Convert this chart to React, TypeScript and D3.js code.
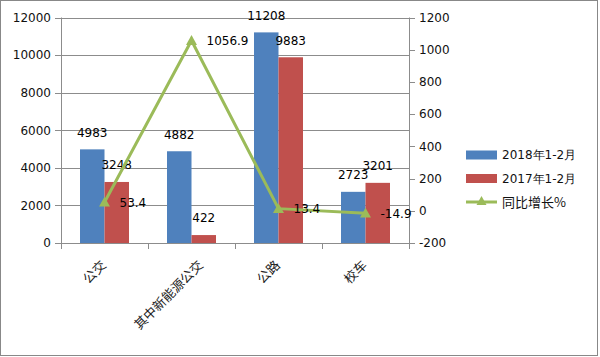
import React from 'react';
import * as d3 from 'd3';

const categories = ['公交', '其中新能源公交', '公路', '校车'];
const sales2018 = [4983, 4882, 11208, 2723];
const sales2017 = [3248, 422, 9883, 3201];
const growth = [53.4, 1056.9, 13.4, -14.9];
const seriesNames = ['2018年1-2月', '2017年1-2月', '同比增长%'];
const leftTicks = [0, 2000, 4000, 6000, 8000, 10000, 12000];
const rightTicks = [-200, 0, 200, 400, 600, 800, 1000, 1200];

const W = 600, H = 357;
const plot = { left: 61, right: 409, top: 17.5, bottom: 243 };
const BLUE = '#4F81BD', RED = '#C0504D', GREEN = '#9BBB59', GRID = '#8C8C8C';
const NUM_FONT = '"DejaVu Sans", Verdana, sans-serif';
const CJK_FONT = '"Noto Sans CJK SC", "DejaVu Sans", sans-serif';

export default function App() {
  const x = d3.scaleBand<string>().domain(categories).range([plot.left, plot.right]).padding(0);
  const bw = x.bandwidth();
  const inner = d3.scaleBand<string>().domain(['a', 'b']).range([0, bw]).paddingInner(0).paddingOuter(0.776);
  const yL = d3.scaleLinear().domain([0, 12000]).range([plot.bottom, plot.top]);
  const yR = d3.scaleLinear().domain([-200, 1200]).range([plot.bottom, plot.top]);
  const cx = (c: string) => (x(c) as number) + bw / 2;
  const line = d3.line<number>().x((_, i) => cx(categories[i])).y(d => yR(d));
  const tri = (px: number, py: number, s = 5.5) => `M${px},${py - s}L${px + s},${py + s * 0.8}L${px - s},${py + s * 0.8}Z`;
  const series = [
    { key: 'a', vals: sales2018, color: BLUE },
    { key: 'b', vals: sales2017, color: RED },
  ];

  return (
    <svg width={W} height={H} style={{ position: 'absolute', left: 0, top: 0, background: '#fff' }}>
      <rect x={0.5} y={0.5} width={597} height={355} fill="#fff" stroke="#888" strokeWidth={1} />
      {/* gridlines */}
      {leftTicks.map(t => (
        <line key={'g' + t} x1={plot.left - 6} x2={plot.right} y1={Math.round(yL(t)) + 0.5} y2={Math.round(yL(t)) + 0.5} stroke={GRID} strokeWidth={1} />
      ))}
      {/* left axis */}
      <line x1={plot.left + 0.5} x2={plot.left + 0.5} y1={plot.top} y2={plot.bottom + 6} stroke={GRID} />
      {leftTicks.map(t => (
        <text key={'lt' + t} x={51} y={yL(t)} dy="0.36em" textAnchor="end" fontFamily={NUM_FONT} fontSize={12} fill="#111">{t}</text>
      ))}
      {/* right axis */}
      <line x1={plot.right + 0.5} x2={plot.right + 0.5} y1={plot.top} y2={plot.bottom + 6} stroke={GRID} />
      {rightTicks.map(t => (
        <g key={'rt' + t}>
          <line x1={plot.right} x2={plot.right + 6} y1={Math.round(yR(t)) + 0.5} y2={Math.round(yR(t)) + 0.5} stroke={GRID} />
          <text x={419} y={yR(t)} dy="0.36em" textAnchor="start" fontFamily={NUM_FONT} fontSize={12} fill="#111">{t}</text>
        </g>
      ))}
      {/* bottom ticks */}
      {categories.map(c => (
        <line key={'bt' + c} x1={(x(c) as number) + 0.5} x2={(x(c) as number) + 0.5} y1={plot.bottom} y2={plot.bottom + 6} stroke={GRID} />
      ))}
      {/* bars */}
      {series.map(s => categories.map((c, i) => {
        const bx = (x(c) as number) + (inner(s.key) as number);
        const by = yL(s.vals[i]);
        return (
          <g key={s.key + c}>
            <rect x={bx} y={by} width={inner.bandwidth()} height={plot.bottom - by} fill={s.color} />
            <text x={bx + inner.bandwidth() / 2} y={by - 17} dy="0.36em" textAnchor="middle" fontFamily={NUM_FONT} fontSize={12} fill="#000">{s.vals[i]}</text>
          </g>
        );
      }))}
      {/* line */}
      <path d={line(growth) || ''} fill="none" stroke={GREEN} strokeWidth={3} strokeLinejoin="round" />
      {growth.map((g, i) => (
        <g key={'p' + i}>
          <path d={tri(cx(categories[i]), yR(g))} fill={GREEN} />
          <text x={cx(categories[i]) + 15} y={yR(g)} dy="0.36em" textAnchor="start" fontFamily={NUM_FONT} fontSize={12} fill="#000">{g}</text>
        </g>
      ))}
      {/* category labels */}
      {categories.map(c => {
        const ax = cx(c) + 2.5 + (c.length - 2) * 2;
        const ay = 266;
        return (
          <text key={'cl' + c} transform={`translate(${ax},${ay}) rotate(-45)`} textAnchor="end" fontFamily={CJK_FONT} fontSize={13} fill="#222">{c}</text>
        );
      })}
      {/* legend */}
      {seriesNames.map((n, i) => {
        const ly = 155 + i * 23.5;
        return (
          <g key={'lg' + n}>
            {i < 2 ? (
              <rect x={466} y={ly - 4.5} width={31} height={9} fill={i === 0 ? BLUE : RED} />
            ) : (
              <g>
                <line x1={466} x2={497} y1={ly} y2={ly} stroke={GREEN} strokeWidth={3} />
                <path d={tri(481.5, ly - 1, 5)} fill={GREEN} />
              </g>
            )}
            <text x={502} y={ly} dy="0.36em" fontFamily={i < 2 ? NUM_FONT : CJK_FONT} fontSize={i < 2 ? 12 : 13} fill="#111">{n}</text>
          </g>
        );
      })}
    </svg>
  );
}
